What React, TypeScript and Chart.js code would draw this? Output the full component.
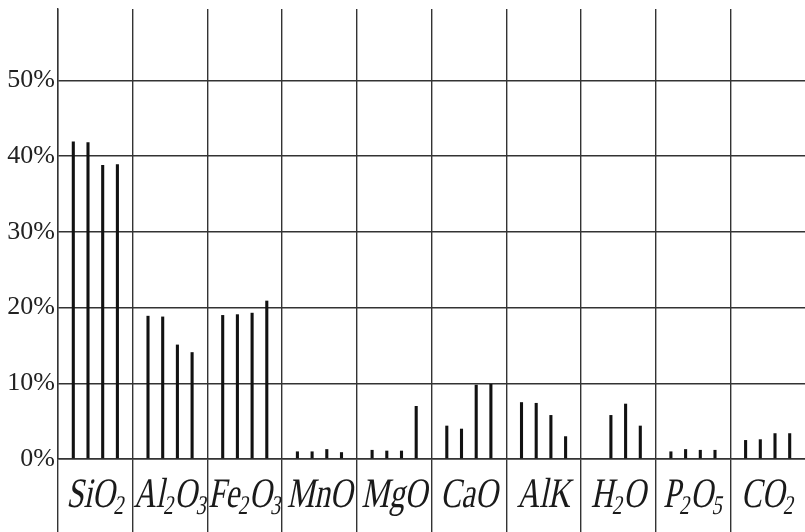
import React, { useEffect, useRef } from 'react';
import { Chart, registerables } from 'chart.js';

Chart.register(...registerables);

const categories = ['SiO₂', 'Al₂O₃', 'Fe₂O₃', 'MnO', 'MgO', 'CaO', 'AlK', 'H₂O', 'P₂O₅', 'CO₂'];
const series1 = [41.9, 18.9, 19.0, 1.0, 1.2, 4.4, 7.5, null, 1.0, 2.5];
const series2 = [41.8, 18.8, 19.1, 1.0, 1.1, 4.0, 7.4, 5.8, 1.3, 2.6];
const series3 = [38.8, 15.1, 19.3, 1.3, 1.1, 9.8, 5.8, 7.3, 1.2, 3.4];
const series4 = [38.9, 14.1, 20.9, 0.9, 7.0, 9.9, 3.0, 4.4, 1.2, 3.4];
const yTicks = [0, 10, 20, 30, 40, 50];

const SUBS = '₀₁₂₃₄₅₆₇₈₉';
const MAIN_FONT = '42px "Liberation Serif", serif';
const SUB_FONT = '27px "Liberation Serif", serif';
const LINE = '#333';

function parseFormula(s: string) {
  const segs: { t: string; sub: boolean }[] = [];
  for (const ch of s) {
    const idx = SUBS.indexOf(ch);
    const sub = idx >= 0;
    const t = sub ? String(idx) : ch;
    const last = segs[segs.length - 1];
    if (last && last.sub === sub) last.t += t;
    else segs.push({ t, sub });
  }
  return segs;
}

const formulaLabels = {
  id: 'formulaLabels',
  afterDraw(chart: any) {
    const ctx = chart.ctx;
    const xs = chart.scales.x;
    const base = chart.chartArea.bottom + 48;
    categories.forEach((lab, i) => {
      const segs = parseFormula(lab);
      ctx.save();
      ctx.translate(xs.getPixelForValue(i), base);
      ctx.transform(0.74, 0, -0.2, 1, 0, 0);
      let total = 0;
      const widths = segs.map((s) => {
        ctx.font = s.sub ? SUB_FONT : MAIN_FONT;
        const w = ctx.measureText(s.t).width;
        total += w;
        return w;
      });
      let x = -total / 2;
      ctx.fillStyle = '#1a1a1a';
      ctx.textAlign = 'left';
      ctx.textBaseline = 'alphabetic';
      segs.forEach((s, k) => {
        ctx.font = s.sub ? SUB_FONT : MAIN_FONT;
        ctx.fillText(s.t, x, s.sub ? 7 : 0);
        x += widths[k];
      });
      ctx.restore();
    });
  },
};

export default function App() {
  const ref = useRef<HTMLCanvasElement | null>(null);
  useEffect(() => {
    if (!ref.current) return;
    const mk = (data: (number | null)[]) => ({
      data,
      backgroundColor: '#111',
      borderWidth: 0,
      categoryPercentage: 0.787,
      barPercentage: 0.21,
    });
    const chart = new Chart(ref.current, {
      type: 'bar',
      data: {
        labels: categories,
        datasets: [mk(series1), mk(series2), mk(series3), mk(series4)],
      },
      plugins: [formulaLabels],
      options: {
        responsive: false,
        animation: false,
        layout: { padding: { top: 9, left: 0, right: 0, bottom: 0 } },
        plugins: { legend: { display: false }, tooltip: { enabled: false } },
        scales: {
          x: {
            type: 'category',
            offset: true,
            grid: {
              offset: true,
              color: (c: any) => (c.type === 'tick' ? LINE : 'rgba(0,0,0,0)'),
              lineWidth: 1.4,
              drawTicks: true,
              tickLength: 73,
            },
            border: { display: true, color: LINE, width: 1.4 },
            ticks: { display: false },
            afterFit: (s: any) => {
              s.height = 73;
              s.paddingLeft = 0;
              s.paddingRight = 0;
            },
          },
          y: {
            min: 0,
            max: 59.4,
            afterBuildTicks: (s: any) => {
              s.ticks = yTicks.map((v) => ({ value: v }));
            },
            grid: { color: LINE, lineWidth: 1.4, drawTicks: false },
            border: { display: true, color: LINE, width: 1.4 },
            ticks: {
              padding: 3,
              color: '#222',
              font: { family: '"Liberation Serif"', size: 26 },
              callback: (v: any) => v + '%',
            },
            afterFit: (s: any) => {
              s.width = 58;
              s.paddingTop = 0;
              s.paddingBottom = 0;
            },
          },
        },
      },
    });
    return () => chart.destroy();
  }, []);
  return (
    <div style={{ position: 'fixed', left: 0, top: 0, width: 805, height: 532, background: '#fff' }}>
      <canvas ref={ref} width={805} height={532} style={{ width: 805, height: 532 }} />
    </div>
  );
}
